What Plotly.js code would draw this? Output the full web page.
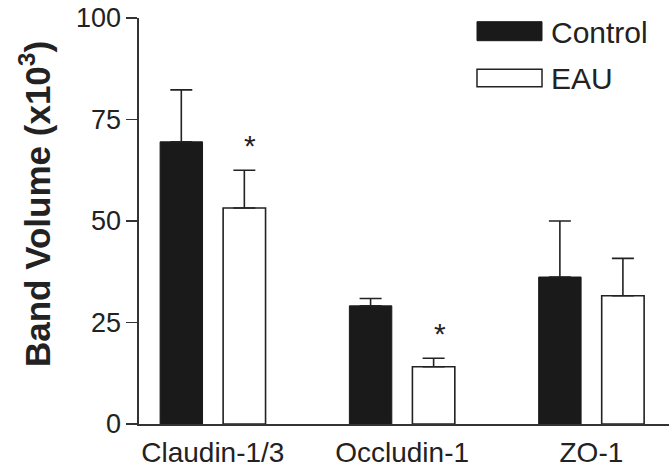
<!DOCTYPE html>
<html>
<head>
<meta charset="utf-8">
<script src="https://cdn.plot.ly/plotly-3.0.1.min.js"></script>
<style>
  html, body { margin: 0; padding: 0; background: #ffffff; }
  #chart { width: 672px; height: 468px; }
</style>
</head>
<body>
<div id="chart"></div>
<script>
// ---- data ----
const categories = ['Claudin-1/3', 'Occludin-1', 'ZO-1'];
const seriesNames = ['Control', 'EAU'];
const controlValues = [69.5, 29.1, 36.2];
const controlErrors = [12.8, 1.8, 13.8];
const eauValues = [53.2, 14.1, 31.6];
const eauErrors = [9.3, 2.1, 9.2];
const eauSignificance = ['*', '*', ''];
const yTickValues = [0, 25, 50, 75, 100];
const yTickLabels = ['0', '25', '50', '75', '100'];
const yAxisTitle = 'Band Volume (x10<sup>3</sup>)';

// ---- styling ----
const W = 672, H = 468;
const M = { l: 139, r: 3, t: 18, b: 44 };
const plotW = W - M.l - M.r, plotH = H - M.t - M.b;
const px2x = p => (p - M.l) / plotW;
const px2y = p => (H - M.b - p) / plotH;
const FONT = 'Arial, "Liberation Sans", Helvetica, sans-serif';
const INK = '#222222';

const traces = [
  {
    type: 'bar', name: seriesNames[0], x: categories, y: controlValues,
    marker: { color: '#1a1a1a', line: { color: '#1a1a1a', width: 1 } },
    error_y: { type: 'data', symmetric: false, array: controlErrors,
      arrayminus: controlErrors.map(() => 0), color: INK, thickness: 1.6, width: 11 }
  },
  {
    type: 'bar', name: seriesNames[1], x: categories, y: eauValues,
    marker: { color: '#ffffff', line: { color: INK, width: 1.6 } },
    error_y: { type: 'data', symmetric: false, array: eauErrors,
      arrayminus: eauErrors.map(() => 0), color: INK, thickness: 1.6, width: 11 }
  }
];

const annotations = [];
eauSignificance.forEach((s, i) => {
  if (!s) return;
  annotations.push({
    x: i + 0.1667, y: eauValues[i] + eauErrors[i], xref: 'x', yref: 'y',
    text: s, showarrow: false, xanchor: 'center', yanchor: 'middle',
    xshift: 6, yshift: 25, font: { family: FONT, size: 30, color: INK }
  });
});
// y axis title
annotations.push({
  x: px2x(35), y: px2y(204), xref: 'paper', yref: 'paper',
  text: yAxisTitle, textangle: -90, showarrow: false,
  xanchor: 'center', yanchor: 'middle',
  font: { family: FONT, size: 35, color: INK, weight: 'bold' }
});
// legend texts
annotations.push({
  x: px2x(549), y: px2y(32.5), xref: 'paper', yref: 'paper', text: seriesNames[0],
  showarrow: false, xanchor: 'left', yanchor: 'middle',
  font: { family: FONT, size: 30, color: INK }
});
annotations.push({
  x: px2x(549), y: px2y(78.5), xref: 'paper', yref: 'paper', text: seriesNames[1],
  showarrow: false, xanchor: 'left', yanchor: 'middle',
  font: { family: FONT, size: 30, color: INK }
});

const shapes = [
  { type: 'rect', xref: 'paper', yref: 'paper',
    x0: px2x(477), x1: px2x(542), y0: px2y(40.7), y1: px2y(21.7),
    fillcolor: '#1a1a1a', line: { color: '#1a1a1a', width: 1 } },
  { type: 'rect', xref: 'paper', yref: 'paper',
    x0: px2x(477), x1: px2x(542), y0: px2y(86.7), y1: px2y(69.3),
    fillcolor: '#ffffff', line: { color: INK, width: 1.5 } }
];

const layout = {
  width: W, height: H,
  margin: M,
  paper_bgcolor: '#ffffff', plot_bgcolor: '#ffffff',
  showlegend: false,
  barmode: 'group', bargap: 0.334, bargroupgap: 0.327,
  font: { family: FONT, color: INK },
  xaxis: {
    type: 'category', range: [-0.39, 2.41],
    showline: true, linecolor: '#333333', linewidth: 1.6,
    ticks: '', showgrid: false, zeroline: false,
    ticklabelstandoff: 3,
    tickfont: { family: FONT, size: 28, color: INK }
  },
  yaxis: {
    range: [0, 100], tickvals: yTickValues, ticktext: yTickLabels,
    showline: true, linecolor: '#333333', linewidth: 1.6,
    ticks: 'outside', ticklen: 11, tickwidth: 1.6, tickcolor: '#333333',
    showgrid: false, zeroline: false,
    tickfont: { family: FONT, size: 27, color: INK }
  },
  annotations: annotations,
  shapes: shapes
};

Plotly.newPlot('chart', traces, layout, { displayModeBar: false, staticPlot: true });
</script>
</body>
</html>
